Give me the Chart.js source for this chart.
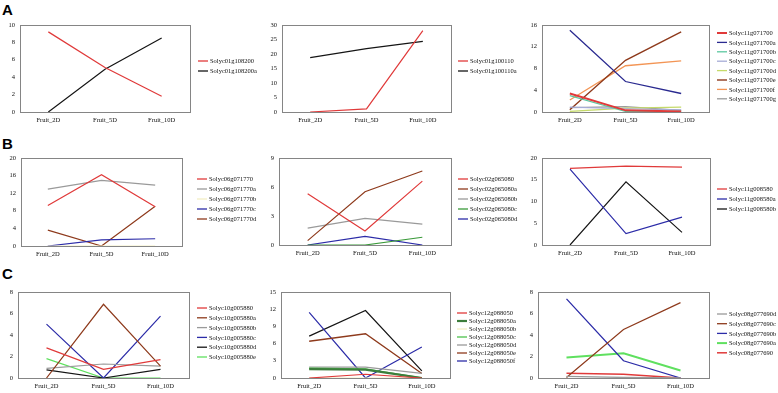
<!DOCTYPE html>
<html>
<head>
<meta charset="utf-8">
<script src="https://cdn.jsdelivr.net/npm/chart.js@4.4.1/dist/chart.umd.min.js"></script>
<style>
  body { margin: 0; background: #fff; }
  #wrap { position: relative; width: 778px; height: 393px; overflow: hidden; }
  canvas { position: absolute; }
  .tag { position: absolute; font: bold 15px "Liberation Sans", Arial, sans-serif; color: #000; }
</style>
</head>
<body>
<div id="wrap">
  <div class="tag" style="left:2px;top:1px">A</div>
  <div class="tag" style="left:2px;top:135px">B</div>
  <div class="tag" style="left:2px;top:265px">C</div>
</div>
<script>
const xLabels = ['Fruit_2D', 'Fruit_5D', 'Fruit_10D'];

// A row
const a1Names = ['Solyc01g108200', 'Solyc01g108200a'];
const a1Values = [[9.2, 5.1, 1.8], [0, 4.9, 8.5]];
const a1Ticks = [0, 2, 4, 6, 8, 10];

const a2Names = ['Solyc01g100110', 'Solyc01g100110a'];
const a2Values = [[0, 1.1, 28], [18.7, 21.8, 24.3]];
const a2Ticks = [0, 5, 10, 15, 20, 25, 30];

const a3Names = ['Solyc11g071700', 'Solyc11g071700a', 'Solyc11g071700b', 'Solyc11g071700c',
  'Solyc11g071700d', 'Solyc11g071700e', 'Solyc11g071700f', 'Solyc11g071700g'];
const a3Values = [[3.4, 0.3, 0.1], [15, 5.6, 3.4], [3.0, 0.1, 0.1], [0.9, 0.6, 0.4],
  [0.1, 0.7, 0.9], [0.4, 9.5, 14.7], [2.2, 8.5, 9.4], [0.8, 1.0, 0.3]];
const a3Ticks = [0, 4, 8, 12, 16];

// B row
const b1Names = ['Solyc06g071770', 'Solyc06g071770a', 'Solyc06g071770b', 'Solyc06g071770c', 'Solyc06g071770d'];
const b1Values = [[9.2, 16.2, 8.9], [12.9, 14.9, 13.8], [0, 0, 0], [0, 1.4, 1.65], [3.6, 0, 9.0]];
const b1Ticks = [0, 4, 8, 12, 16, 20];

const b2Names = ['Solyc02g065080', 'Solyc02g065080a', 'Solyc02g065080b', 'Solyc02g065080c', 'Solyc02g065080d'];
const b2Values = [[5.3, 1.45, 6.6], [0.45, 5.5, 7.65], [1.75, 2.75, 2.15], [0, 0, 0.8], [0, 0.9, 0]];
const b2Ticks = [0, 3, 6, 9];

const b3Names = ['Solyc11g008580', 'Solyc11g008580a', 'Solyc11g008580b'];
const b3Values = [[17.6, 18.1, 17.9], [17.4, 2.6, 6.4], [0, 14.5, 2.9]];
const b3Ticks = [0, 5, 10, 15, 20];

// C row
const c1Names = ['Solyc10g005880', 'Solyc10g005880a', 'Solyc10g005880b', 'Solyc10g005880c', 'Solyc10g005880d', 'Solyc10g005880e'];
const c1Values = [[2.8, 0.8, 1.7], [0, 6.85, 1.1], [0.9, 1.3, 1.1], [5.0, 0, 5.75], [0.75, 0, 0.8], [1.8, 0, 0]];
const c1Ticks = [0, 2, 4, 6, 8];

const c2Names = ['Solyc12g088050', 'Solyc12g088050a', 'Solyc12g088050b', 'Solyc12g088050c',
  'Solyc12g088050d', 'Solyc12g088050e', 'Solyc12g088050f', ''];
const c2Values = [[0, 0.65, 0], [1.55, 1.45, 0], [0, 0, 0], [1.7, 1.6, 0],
  [1.9, 1.9, 0.8], [6.4, 7.7, 0.8], [11.45, 0, 5.4], [7.3, 11.75, 1.25]];
const c2Ticks = [0, 3, 6, 9, 12, 15];

const c3Names = ['Solyc08g077690d', 'Solyc08g077690c', 'Solyc08g077690b', 'Solyc08g077690a', 'Solyc08g077690'];
const c3Values = [[0.15, 0.05, 0], [0.05, 4.5, 7.0], [7.35, 1.6, 0], [1.9, 2.3, 0.7], [0.45, 0.35, 0]];
const c3Ticks = [0, 2, 4, 6, 8];

const RED = '#e03a3a', BLACK = '#151515', BLUE = '#2c2ca8', NAVY = '#2a2a90', BROWN = '#8e3a1c',
  ORANGE = '#f39555', GRAY = '#9a9a9a', GREEN = '#4cc24c', LGREEN = '#5fe05f', MINT = '#5cc8a0',
  BLUEGRAY = '#a6acd6', YGREEN = '#c5da6a', YELLOW = '#f3efc4', DGREEN = '#3c7d3c';

// box = plot area [left, top, right, bottom]; legend = [line x, first row y, row step]
const panels = [
  { names: a1Names, values: a1Values, ticks: a1Ticks, colors: [RED, BLACK], box: [20, 20, 190, 112], legend: [198, 61, 10] },
  { names: a2Names, values: a2Values, ticks: a2Ticks, colors: [RED, BLACK], box: [282, 20, 451, 112], legend: [458, 61, 10] },
  { names: a3Names, values: a3Values, ticks: a3Ticks, widths: [2, 1.3, 1.2, 1.2, 1.2, 1.4, 1.3, 1.2],
    colors: [RED, NAVY, MINT, BLUEGRAY, YGREEN, BROWN, ORANGE, GRAY], box: [542, 20, 709, 112], legend: [717, 33, 9.4] },
  { names: b1Names, values: b1Values, ticks: b1Ticks, colors: [RED, GRAY, YELLOW, BLUE, BROWN], box: [21, 153, 182, 246], legend: [197, 179, 10] },
  { names: b2Names, values: b2Values, ticks: b2Ticks, colors: [RED, BROWN, GRAY, '#3a9a3a', BLUE], box: [279, 153, 451, 245], legend: [458, 179, 10] },
  { names: b3Names, values: b3Values, ticks: b3Ticks, colors: [RED, BLUE, BLACK], box: [542, 153, 710, 245], legend: [717, 189, 10] },
  { names: c1Names, values: c1Values, ticks: c1Ticks, colors: [RED, BROWN, GRAY, BLUE, BLACK, LGREEN], box: [18, 287, 189, 378], legend: [197, 308, 9.8] },
  { names: c2Names, values: c2Values, ticks: c2Ticks, widths: [1.2, 2.2, 1.2, 1.3, 1.2, 1.3, 1.2, 1.2],
    colors: [RED, DGREEN, YELLOW, GREEN, GRAY, BROWN, BLUE, BLACK], box: [281, 287, 450, 378], legend: [457, 313, 8] },
  { names: c3Names, values: c3Values, ticks: c3Ticks, widths: [1.3, 1.2, 1.3, 2, 1.5],
    colors: [GRAY, BROWN, BLUE, LGREEN, RED], box: [538, 287, 709, 378], legend: [717, 314, 9.7] }
];

const font = { family: '"Liberation Serif", "Times New Roman", serif', size: 6.5 };
const YW = 22, PT = 4, XH = 16, PB = 2;

// frame around the plot area + hand-drawn legend
const framePlugin = {
  id: 'frame',
  afterDraw(chart, args, opts) {
    const { ctx, chartArea: a } = chart;
    ctx.save();
    ctx.strokeStyle = '#858585';
    ctx.lineWidth = 1;
    ctx.strokeRect(Math.round(a.left) + 0.5, Math.round(a.top) + 0.5,
      Math.round(a.right - a.left), Math.round(a.bottom - a.top));
    ctx.font = font.size + 'px ' + font.family;
    ctx.textBaseline = 'middle';
    ctx.fillStyle = '#111';
    let row = 0;
    chart.data.datasets.forEach(ds => {
      if (!ds.label) return;
      const y = opts.y + row * opts.step;
      ctx.strokeStyle = ds.borderColor;
      ctx.lineWidth = Math.max(ds.borderWidth, 1.3);
      ctx.beginPath();
      ctx.moveTo(opts.x, y);
      ctx.lineTo(opts.x + 10, y);
      ctx.stroke();
      ctx.fillText(ds.label, opts.x + 12, y + 0.5);
      row++;
    });
    ctx.restore();
  }
};

const wrap = document.getElementById('wrap');
panels.forEach(p => {
  const [l, t, r, b] = p.box;
  const cl = l - YW, ct = t - PT;
  const cw = p.legend[0] + 75 - cl;
  const ch = b - t + PT + XH + PB;
  const cv = document.createElement('canvas');
  cv.width = cw; cv.height = ch;
  cv.style.left = cl + 'px'; cv.style.top = ct + 'px';
  wrap.appendChild(cv);
  const ticks = p.ticks;
  new Chart(cv, {
    type: 'line',
    data: {
      labels: xLabels,
      datasets: p.names.map((n, i) => ({
        label: n,
        data: p.values[i],
        borderColor: p.colors[i],
        borderWidth: p.widths ? p.widths[i] : 1.2,
        pointRadius: 0,
        tension: 0,
        fill: false
      }))
    },
    options: {
      responsive: false,
      animation: false,
      devicePixelRatio: 1,
      layout: { padding: { left: 0, top: PT, right: cl + cw - r, bottom: PB } },
      plugins: {
        legend: { display: false },
        tooltip: { enabled: false },
        frame: { x: p.legend[0] - cl, y: p.legend[1] - ct, step: p.legend[2] }
      },
      scales: {
        x: {
          offset: true,
          grid: { display: false, drawTicks: false },
          border: { display: false },
          ticks: { font, color: '#111', padding: 4, maxRotation: 0, autoSkip: false },
          afterFit(s) { s.height = XH; }
        },
        y: {
          min: ticks[0],
          max: ticks[ticks.length - 1],
          grid: { display: false, drawTicks: false },
          border: { display: false },
          afterBuildTicks(s) { s.ticks = ticks.map(v => ({ value: v })); },
          ticks: { font, color: '#111', padding: 5 },
          afterFit(s) { s.width = YW; }
        }
      }
    },
    plugins: [framePlugin]
  });
});
</script>
</body>
</html>
